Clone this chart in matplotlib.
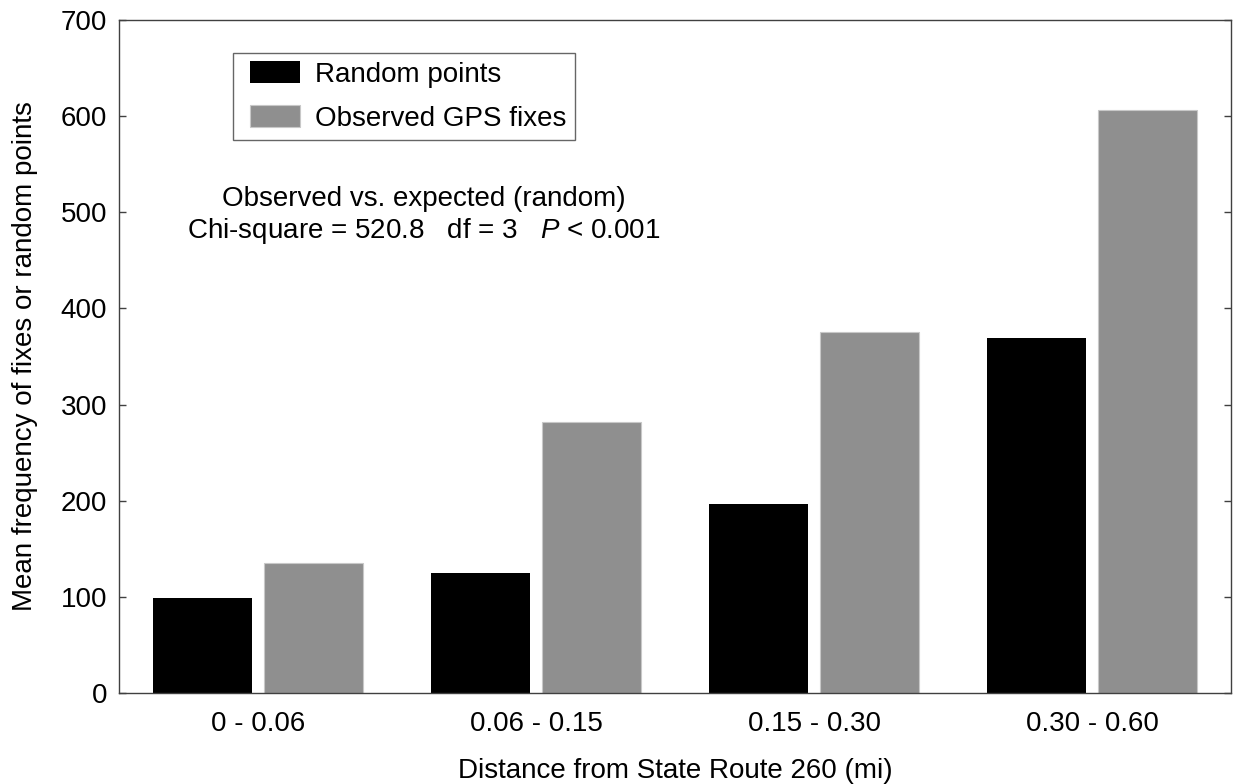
import numpy as np
import matplotlib
matplotlib.use('Agg')
import matplotlib.pyplot as plt
from matplotlib.patches import Rectangle
from matplotlib.legend_handler import HandlerPatch

plt.rcParams['font.family'] = ['Liberation Sans', 'DejaVu Sans']
plt.rcParams['mathtext.fontset'] = 'custom'
plt.rcParams['mathtext.it'] = 'Liberation Sans:italic'
plt.rcParams['mathtext.rm'] = 'Liberation Sans'

categories = ['0 - 0.06', '0.06 - 0.15', '0.15 - 0.30', '0.30 - 0.60']
random_points = [99, 125, 197, 369]
observed_fixes = [135, 282, 376, 606]

FS = 20


def right_box(legend, orig_handle, xdescent, ydescent, width, height, fontsize):
    # legend swatch pushed to the right end of the handle area
    bw = 1.8 * fontsize
    return Rectangle((-xdescent + width - bw, -ydescent), bw, height)


fig = plt.figure(figsize=(12.33, 7.84), dpi=100)
ax = fig.add_axes([119 / 1233, 1 - 693 / 784, (1231 - 119) / 1233, (693 - 20) / 784])

x = np.arange(len(categories))
w = 0.356
b1 = ax.bar(x - 0.2, random_points, w, color='black', label='Random points')
b2 = ax.bar(x + 0.2, observed_fixes, w, color='#8f8f8f', edgecolor='#c8c8c8',
            linewidth=0.8, label='Observed GPS fixes')

ax.set_xlim(-0.5, 3.5)
ax.set_ylim(0, 700)
ax.set_xticks(x)
ax.set_xticklabels(categories)
ax.set_yticks(range(0, 701, 100))

ax.tick_params(axis='y', direction='in', length=5, width=1, color='#404040',
               left=True, right=True, labelsize=FS, pad=8.5)
ax.tick_params(axis='x', length=0, labelsize=FS, pad=13)
for s in ax.spines.values():
    s.set_color('#404040')
    s.set_linewidth(1)

ax.set_xlabel('Distance from State Route 260 (mi)', fontsize=FS)
ax.set_ylabel('Mean frequency of fixes or random points', fontsize=FS)
ax.xaxis.set_label_coords(0.5, (693 - 758) / 673)
ax.yaxis.set_label_coords((38 - 119) / 1112, 0.5)

h1, h2 = b1.patches[0], b2.patches[0]
leg = ax.legend([h1, h2], ['Random points', 'Observed GPS fixes'],
                loc='upper left', bbox_to_anchor=(233 / 1233, 1 - 53 / 784),
                bbox_transform=fig.transFigure, borderaxespad=0, fontsize=FS,
                frameon=True, fancybox=False, edgecolor='#404040',
                handlelength=2.11, handleheight=0.85, handletextpad=0.54,
                labelspacing=0.61, borderpad=0.3,
                handler_map={h1: HandlerPatch(patch_func=right_box),
                             h2: HandlerPatch(patch_func=right_box)})
leg.get_frame().set_linewidth(1)

fig.text(424 / 1233, 1 - 199 / 784, 'Observed vs. expected (random)',
         ha='center', va='center', fontsize=FS)
fig.text(424 / 1233, 1 - 231 / 784,
         'Chi-square = 520.8   df = 3   $P$ < 0.001',
         ha='center', va='center', fontsize=FS)

fig.savefig('out.png', dpi=100)
